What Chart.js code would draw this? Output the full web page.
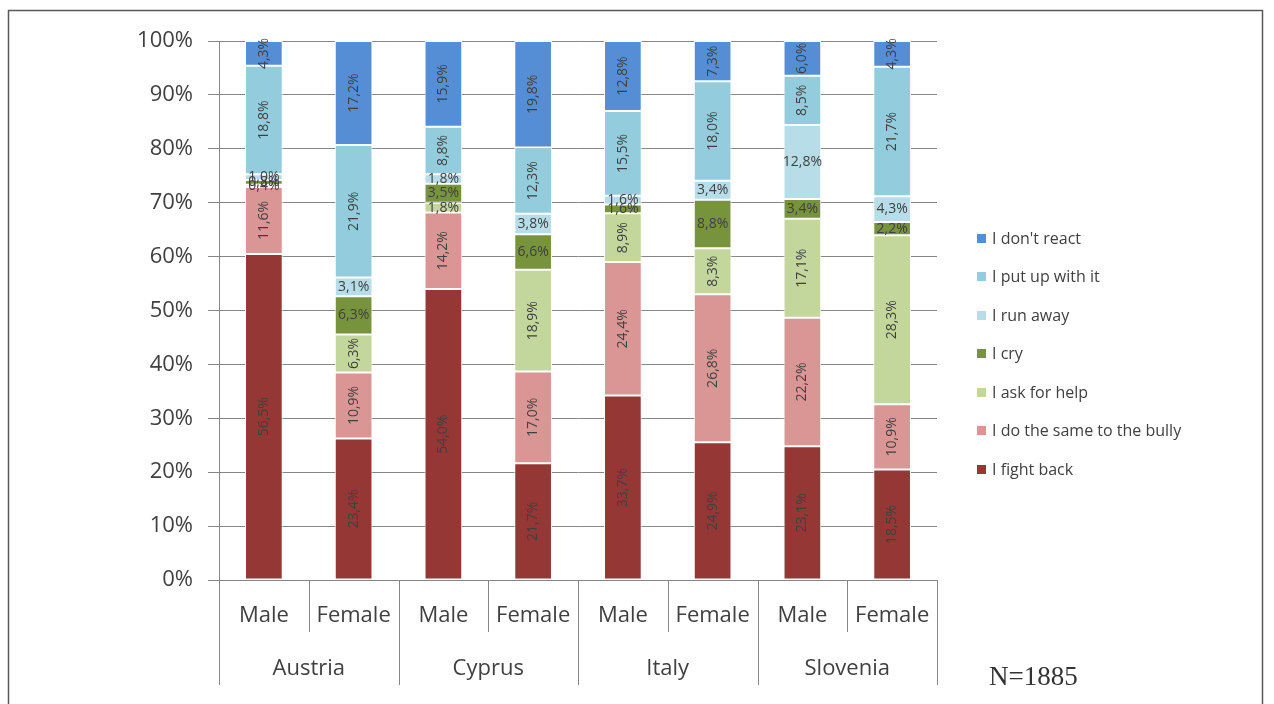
<!DOCTYPE html>
<html>
<head>
<meta charset="utf-8">
<title>Reactions to bullying by country and gender</title>
<script src="https://cdn.jsdelivr.net/npm/chart.js@4.4.1/dist/chart.umd.min.js"></script>
<style>
  html, body { margin: 0; padding: 0; background: #ffffff; }
  #wrap { position: relative; width: 1274px; height: 704px; }
</style>
</head>
<body>
<div id="wrap"><canvas id="chart"></canvas></div>
<script>
// Bars: one per gender inside each country
const countries = ['Austria', 'Cyprus', 'Italy', 'Slovenia'];
const genders = ['Male', 'Female'];
const barLabels = ['Austria Male', 'Austria Female', 'Cyprus Male', 'Cyprus Female',
                   'Italy Male', 'Italy Female', 'Slovenia Male', 'Slovenia Female'];

// Share of answers (%) per reaction, bars in the order above
const fightBack   = [56.5, 23.4, 54.0, 21.7, 33.7, 24.9, 23.1, 18.5];
const doSame      = [11.6, 10.9, 14.2, 17.0, 24.4, 26.8, 22.2, 10.9];
const askHelp     = [0.4, 6.3, 1.8, 18.9, 8.9, 8.3, 17.1, 28.3];
const cry         = [0.8, 6.3, 3.5, 6.6, 1.6, 8.8, 3.4, 2.2];
const runAway     = [1.0, 3.1, 1.8, 3.8, 1.6, 3.4, 12.8, 4.3];
const putUp       = [18.8, 21.9, 8.8, 12.3, 15.5, 18.0, 8.5, 21.7];
const dontReact   = [4.3, 17.2, 15.9, 19.8, 12.8, 7.3, 6.0, 4.3];

const yTicks = [0, 10, 20, 30, 40, 50, 60, 70, 80, 90, 100];
const sampleNote = 'N=1885';

const series = [
  { name: 'I fight back', values: fightBack, color: '#953735', flat: false },
  { name: 'I do the same to the bully', values: doSame, color: '#D99694', flat: false },
  { name: 'I ask for help', values: askHelp, color: '#C3D69B', flat: false },
  { name: 'I cry', values: cry, color: '#77933C', flat: true },
  { name: 'I run away', values: runAway, color: '#B7DEE8', flat: true },
  { name: 'I put up with it', values: putUp, color: '#93CDDD', flat: false },
  { name: "I don't react", values: dontReact, color: '#558ED5', flat: false }
];

// Each bar is stretched to 100% of its own total
const totals = barLabels.map((_, i) => series.reduce((s, d) => s + d.values[i], 0));

const datasets = series.map(s => ({
  label: s.name,
  raw: s.values,
  flat: s.flat,
  data: s.values.map((v, i) => v / totals[i] * 100),
  backgroundColor: s.color,
  borderColor: '#ffffff',
  borderWidth: 1,
  borderSkipped: false,
  barPercentage: 0.42,
  categoryPercentage: 1.0
}));

const FONT = "'Open Sans', 'DejaVu Sans', sans-serif";
const TEXT = '#404040';
const LINE = '#868686';

const fmt = v => v.toFixed(1).replace('.', ',') + '%';

// Values written on each segment
const segmentLabels = {
  id: 'segmentLabels',
  afterDatasetsDraw(chart) {
    const ctx = chart.ctx;
    ctx.save();
    ctx.font = '14px ' + FONT;
    ctx.fillStyle = TEXT;
    ctx.textAlign = 'center';
    ctx.textBaseline = 'middle';
    chart.data.datasets.forEach((ds, di) => {
      const meta = chart.getDatasetMeta(di);
      meta.data.forEach((bar, i) => {
        const text = fmt(ds.raw[i]);
        const top = Math.min(bar.y, bar.base);
        const h = Math.abs(bar.base - bar.y);
        const cy = top + h / 2;
        if (ds.flat || h < 20) {
          ctx.fillText(text, bar.x, cy);
        } else {
          ctx.save();
          ctx.translate(bar.x, cy);
          ctx.rotate(-Math.PI / 2);
          ctx.fillText(text, 0, 0);
          ctx.restore();
        }
      });
    });
    ctx.restore();
  }
};

// Two-level category axis, legend, note and outer frame
const decorations = {
  id: 'decorations',
  afterDraw(chart) {
    const ctx = chart.ctx;
    const area = chart.chartArea;
    const xs = chart.scales.x;
    const n = barLabels.length;
    const slot = (area.right - area.left) / n;
    ctx.save();

    // category separators
    ctx.strokeStyle = LINE;
    ctx.lineWidth = 1;
    for (let i = 0; i <= n; i++) {
      const x = Math.round(area.left + i * slot) + 0.5;
      const long = i % genders.length === 0;
      ctx.beginPath();
      ctx.moveTo(x, area.bottom);
      ctx.lineTo(x, area.bottom + (long ? 105 : 52));
      ctx.stroke();
    }

    // gender labels
    ctx.fillStyle = TEXT;
    ctx.font = '22px ' + FONT;
    ctx.textAlign = 'center';
    ctx.textBaseline = 'middle';
    barLabels.forEach((_, i) => {
      ctx.fillText(genders[i % genders.length], xs.getPixelForValue(i), area.bottom + 36);
    });
    // country labels
    countries.forEach((c, k) => {
      const x = (xs.getPixelForValue(2 * k) + xs.getPixelForValue(2 * k + 1)) / 2;
      ctx.fillText(c, x, area.bottom + 89);
    });

    // legend, top entry is the last series
    ctx.font = '16px ' + FONT;
    ctx.textAlign = 'left';
    const items = series.slice().reverse();
    items.forEach((s, k) => {
      const y = 238 + k * 38.5;
      ctx.fillStyle = s.color;
      ctx.fillRect(977, Math.round(y - 4.5), 9, 9);
      ctx.fillStyle = TEXT;
      ctx.fillText(s.name, 992, y + 1);
    });

    // sample size note
    ctx.font = "27px 'Liberation Serif', 'DejaVu Serif', serif";
    ctx.fillStyle = '#333333';
    ctx.textBaseline = 'alphabetic';
    ctx.fillText(sampleNote, 989, 685);

    // frame
    ctx.strokeStyle = '#595959';
    ctx.lineWidth = 1.5;
    ctx.strokeRect(8.5, 10.5, 1254, 760);
    ctx.restore();
  }
};

new Chart(document.getElementById('chart'), {
  type: 'bar',
  data: { labels: barLabels, datasets },
  options: {
    responsive: true,
    maintainAspectRatio: false,
    animation: false,
    layout: { padding: { left: 0, right: 337, top: 41, bottom: 124 } },
    plugins: { legend: { display: false }, tooltip: { enabled: false } },
    scales: {
      x: { stacked: true, display: false },
      y: {
        stacked: true,
        min: 0,
        max: 100,
        afterFit: s => { s.width = 219; },
        afterBuildTicks: s => { s.ticks = yTicks.map(v => ({ value: v })); },
        ticks: {
          padding: 15,
          color: TEXT,
          font: { family: FONT, size: 22 },
          callback: v => v + '%'
        },
        grid: { color: LINE, lineWidth: 1, tickLength: 11, drawTicks: true },
        border: { display: true, color: LINE, width: 1 }
      }
    }
  },
  plugins: [segmentLabels, decorations]
});
</script>
</body>
</html>
